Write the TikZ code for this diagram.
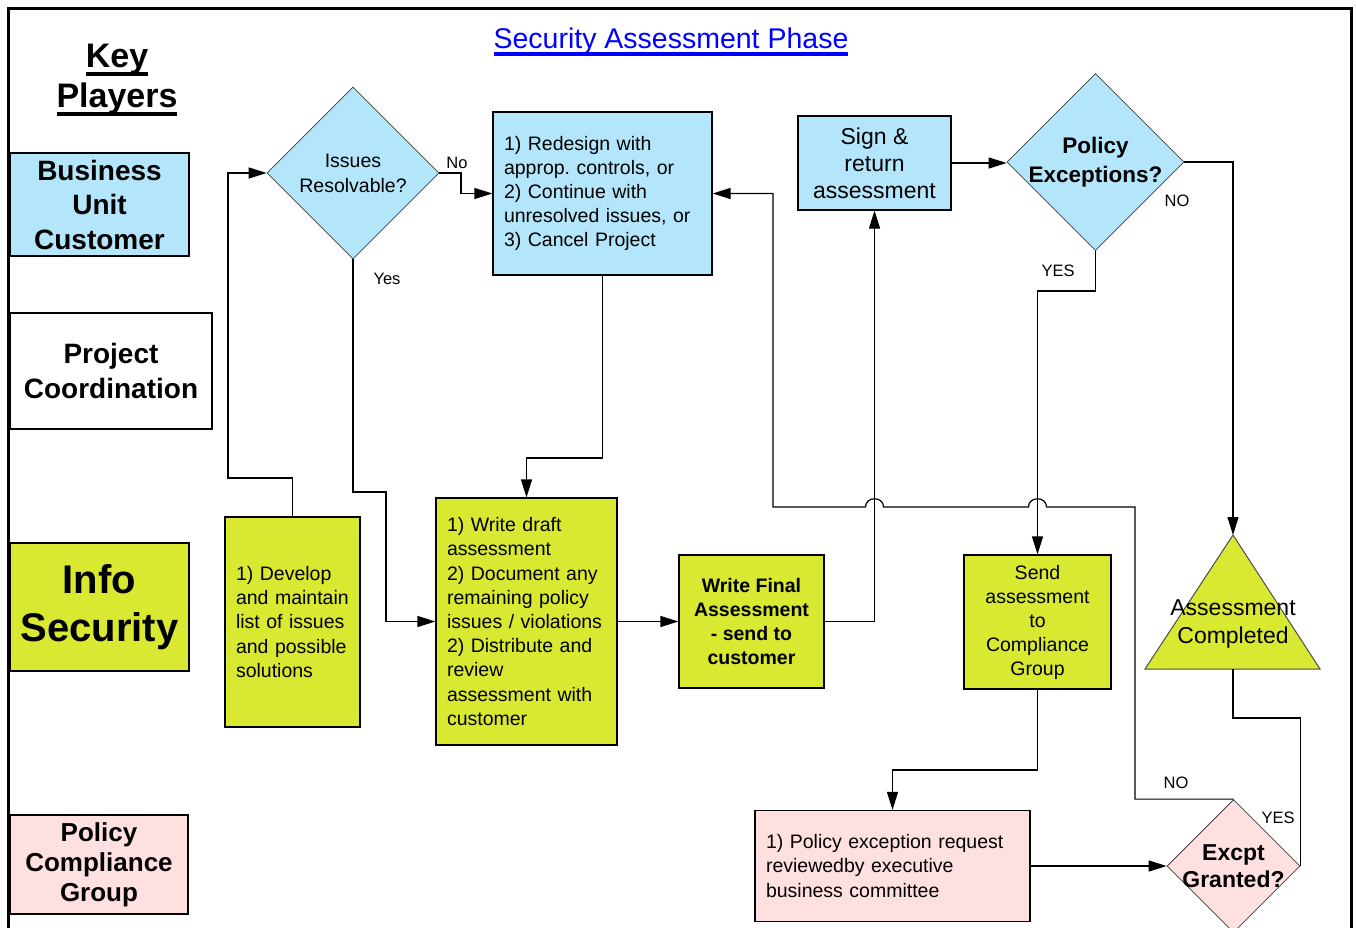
\documentclass[tikz,border=0pt]{standalone}
\usepackage{fontspec}
\setmainfont{Liberation Sans}
\usetikzlibrary{shapes.geometric,arrows.meta}
\frenchspacing

\colorlet{bluedot}{cyan!30!white}
\colorlet{yellowdot}{yellow!85!cyan}
\colorlet{reddot}{red!12!white}

\newsavebox{\keybox}
\newcommand{\keyline}[1]{\sbox\keybox{#1}\rlap{\rule[-8pt]{\wd\keybox}{4pt}}\usebox\keybox}

\tikzstyle{player}=[rectangle,draw,line width=1.2pt,align=center,inner sep=0pt]
\tikzstyle{stepbox}=[rectangle,draw,line width=1.2pt,align=left,inner xsep=11pt,inner ysep=0pt,font=\fontsize{19.5pt}{24.2pt}\selectfont]
\tikzstyle{midbox}=[rectangle,draw,line width=1.2pt,align=center,inner sep=0pt]
\tikzstyle{decision}=[diamond,draw=black!75,line width=0.8pt,aspect=1,inner sep=-10pt,align=center]
\tikzstyle{lbl}=[inner sep=0pt,font=\fontsize{16.5pt}{18pt}\selectfont]

\begin{document}
\begin{tikzpicture}[x=1pt,y=-1pt,>={Triangle[length=18pt,width=11pt]},line width=1.2pt]
		\useasboundingbox (0,0) rectangle (1356,928);
		\draw[line width=3pt] (8.5,928) -- (8.5,8.5) -- (1351.5,8.5) -- (1351.5,928);
		\node[anchor=base,text=blue,font=\fontsize{28.5pt}{34pt}\selectfont] (title) at (671,48.5) {\keyline{Security Assessment Phase}};
		\node[anchor=base,font=\fontsize{34pt}{40pt}\selectfont\bfseries] (key) at (117,68) {\keyline{Key}};
		\node[anchor=base,font=\fontsize{34pt}{40pt}\selectfont\bfseries] (players) at (117,108) {\keyline{Players}};
		% key players
		\node[player,fill=bluedot,minimum width=179pt,minimum height=103pt,font=\fontsize{28pt}{34.5pt}\selectfont\bfseries] (business) at (99.5,204.5) {Business\\Unit\\Customer};
		\node[player,minimum width=202pt,minimum height=116pt,font=\fontsize{28pt}{35pt}\selectfont\bfseries] (project) at (111,371) {Project\\Coordination};
		\node[player,fill=yellowdot,below of=business,node distance=402.5pt,minimum width=179pt,minimum height=128pt,font=\fontsize{40pt}{48pt}\selectfont\bfseries] (info_sec) {Info\\Security};
		\node[player,fill=reddot,minimum width=178pt,minimum height=99pt,font=\fontsize{26pt}{30pt}\selectfont\bfseries] (compliance) at (99,864.5) {Policy\\Compliance\\Group};
		% flow
		\node[decision,fill=bluedot,minimum size=172pt,font=\fontsize{19.5pt}{25pt}\selectfont] (issues) at (353,173) {Issues\\Resolvable?};
		\node[stepbox,fill=bluedot,text width=197pt,minimum height=163pt] (redesign) at (602.5,193.5) {1) Redesign with\\approp. controls, or\\2) Continue with\\unresolved issues, or\\3) Cancel Project};
		\node[midbox,fill=bluedot,minimum width=153pt,minimum height=94pt,font=\fontsize{23pt}{27pt}\selectfont] (sign) at (874.5,163) {Sign \&\\return\\assessment};
		\node[decision,fill=bluedot,minimum size=177pt,font=\fontsize{22.5pt}{29pt}\selectfont\bfseries] (exceptions) at (1095.5,162) {Policy\\Exceptions?};
		\node[stepbox,fill=yellowdot,text width=113pt,minimum height=210pt] (develop) at (292.5,622) {1) Develop\\and maintain\\list of issues\\and possible\\solutions};
		\node[stepbox,fill=yellowdot,text width=159pt,minimum height=247pt] (draft) at (526.5,621.5) {1) Write draft\\assessment\\2) Document any\\remaining policy\\issues / violations\\2) Distribute and\\review\\assessment with\\customer};
		\node[midbox,fill=yellowdot,right of=draft,node distance=225pt,minimum width=145pt,minimum height=133pt,font=\fontsize{19.5pt}{24pt}\selectfont\bfseries] (final) {Write Final\\Assessment\\- send to\\customer};
		\node[midbox,fill=yellowdot,minimum width=147pt,minimum height=134pt,font=\fontsize{19.5pt}{24pt}\selectfont] (send) at (1037.5,622) {Send\\assessment\\to\\Compliance\\Group};
		\fill[yellowdot,draw=black!70,line width=1pt] (1233,535) -- (1320,669) -- (1145,669) -- cycle;
		\coordinate (done_top) at (1233,535);
		\coordinate (done_bot) at (1233,669);
		\node[align=center,font=\fontsize{23pt}{28pt}\selectfont] (done) at (1233,624) {Assessment\\Completed};
		\node[stepbox,fill=reddot,text width=253pt,minimum height=111pt] (request) at (892.5,866) {1) Policy exception request\\reviewedby executive\\business committee};
		\node[decision,fill=reddot,minimum size=133pt,font=\fontsize{23pt}{27pt}\selectfont\bfseries] (granted) at (1233.5,866) {Excpt\\Granted?};
		% labels
		\node[lbl] (no_a) at (457,163) {No};
		\node[lbl] (yes_a) at (387,279) {Yes};
		\node[lbl] (no_b) at (1177,201) {NO};
		\node[lbl] (yes_b) at (1058,271) {YES};
		\node[lbl] (no_c) at (1176,783) {NO};
		\node[lbl] (yes_c) at (1278,818) {YES};
		\draw[->] (develop.north) |- (228,478) |- (issues.west);
		\draw[->] (issues.east) -| (461,193.5) -- (redesign.west);
		\draw[->] (issues.south) |- (386,492) |- (draft.west);
		\draw[->] (redesign.south) |- (526.5,458) -- (draft.north);
		\draw[->] (draft.east) -- (final.west);
		\draw[->] (final.east) -| (sign.south);
		\draw[->] (sign.east) -- (sign.east -| exceptions.west);
		\draw[->] (exceptions.south) |- (1037.5,291) -- (send.north);
		\draw[->] (exceptions.east) -| (done_top);
		\draw[->] (send.south) |- (892.5,770) -- (request.north);
		\draw[->] (request.east) -- (granted.west);
		\draw[->] (granted.north) -| (1135,507) -- (1046.5,507) .. controls (1046.5,496) and (1028.5,496) .. (1028.5,507) -- (883.5,507) .. controls (883.5,496) and (865.5,496) .. (865.5,507) -- (773,507) |- (redesign.east);
		\draw (granted.east) |- (1233,718) -- (done_bot);
	\end{tikzpicture}
\end{document}
